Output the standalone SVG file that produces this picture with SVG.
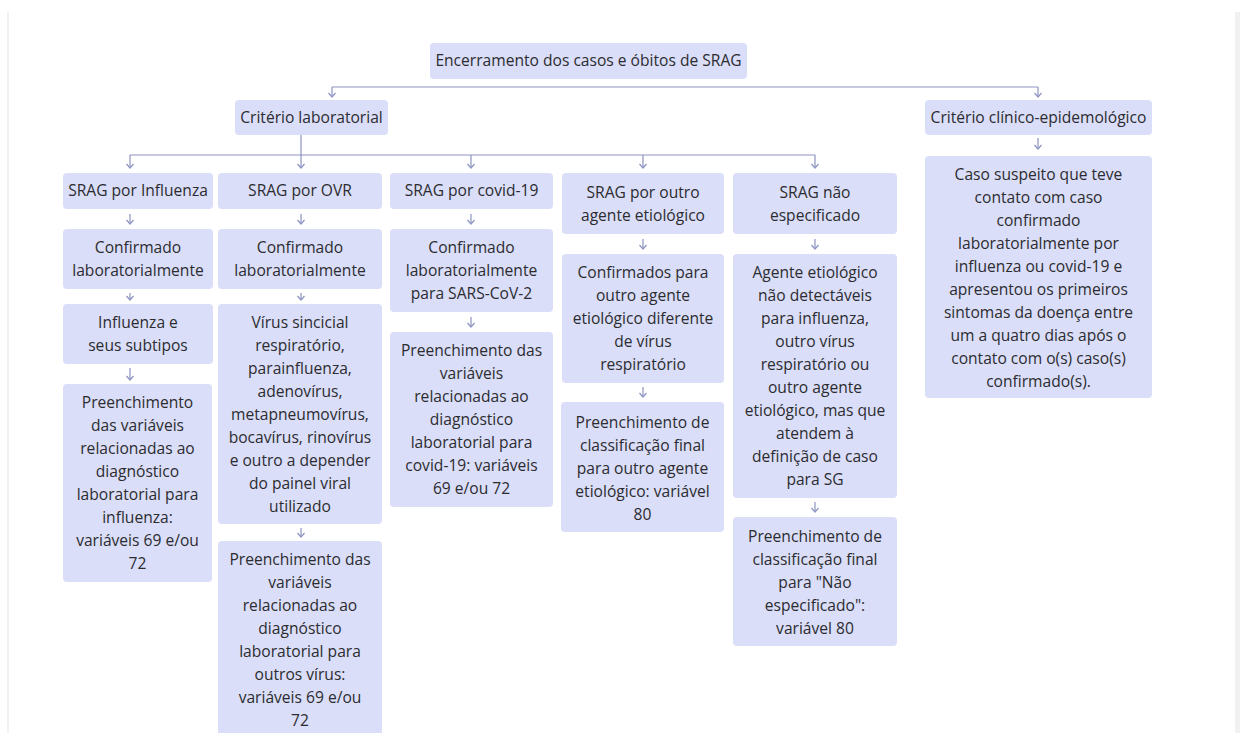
<svg xmlns="http://www.w3.org/2000/svg" width="1243" height="733" viewBox="0 0 1243 733">
<defs>
<style>
.bx{fill:#dadef8;}
.t{font-family:"Open Sans","Noto Sans","DejaVu Sans",sans-serif;font-size:15.6px;fill:#2c2c30;text-anchor:middle;}
.ln{stroke:#8d93c2;stroke-width:1.2;fill:none;}
.ar{stroke:#8d93c2;stroke-width:1.2;fill:none;marker-end:url(#ah);}
.edge{fill:#f1f1f1;}
</style>
<marker id="ah" markerUnits="userSpaceOnUse" markerWidth="10" markerHeight="10" viewBox="-5 -5 10 10" refX="0" refY="0" orient="auto" overflow="visible">
<path d="M-4,-3.5 L0,0 L-4,3.5" fill="none" stroke="#8d93c2" stroke-width="1.2"/>
</marker>
</defs>
<rect x="0" y="0" width="1243" height="733" fill="#ffffff"/>
<rect class="edge" x="7" y="12" width="2" height="721"/>
<rect class="edge" x="1235" y="12" width="5" height="721"/>

<g id="connectors">
<path class="ln" d="M332,87 H1038"/>
<path class="ar" d="M332,87 V97"/>
<path class="ar" d="M1038,87 V97"/>
<path class="ln" d="M130,155 H815"/>
<path class="ar" d="M301,135 V168"/>
<path class="ar" d="M130,155 V168"/>
<path class="ar" d="M471,155 V168"/>
<path class="ar" d="M643,155 V168"/>
<path class="ar" d="M815,155 V168"/>
<path class="ar" d="M1038,138 V149"/>
<path class="ar" d="M130,214 V224"/>
<path class="ar" d="M130,293 V300"/>
<path class="ar" d="M130,368 V380"/>
<path class="ar" d="M301,214 V224"/>
<path class="ar" d="M301,293 V300"/>
<path class="ar" d="M301,528 V537"/>
<path class="ar" d="M471,214 V224"/>
<path class="ar" d="M471,317 V327"/>
<path class="ar" d="M643,239 V249"/>
<path class="ar" d="M643,387 V397"/>
<path class="ar" d="M815,239 V249"/>
<path class="ar" d="M815,502 V512"/>
</g>

<g id="root">
<rect class="bx" x="430" y="43" width="317" height="36" rx="4"/>
<text class="t" x="588.5" y="66">Encerramento dos casos e óbitos de SRAG</text>
</g>

<g id="crit-lab">
<rect class="bx" x="235" y="100" width="153" height="35" rx="4"/>
<text class="t" x="311.5" y="122.5">Critério laboratorial</text>
</g>

<g id="crit-clin">
<rect class="bx" x="925" y="100" width="227" height="35" rx="4"/>
<text class="t" x="1038.5" y="122.5">Critério clínico-epidemológico</text>
</g>

<g id="clin-desc">
<rect class="bx" x="925" y="156" width="227" height="242" rx="4"/>
<text class="t" x="1038.5" y="180">Caso suspeito que teve</text>
<text class="t" x="1038.5" y="203">contato com caso</text>
<text class="t" x="1038.5" y="226">confirmado</text>
<text class="t" x="1038.5" y="249">laboratorialmente por</text>
<text class="t" x="1038.5" y="272">influenza ou covid-19 e</text>
<text class="t" x="1038.5" y="295">apresentou os primeiros</text>
<text class="t" x="1038.5" y="318">sintomas da doença entre</text>
<text class="t" x="1038.5" y="341">um a quatro dias após o</text>
<text class="t" x="1038.5" y="364">contato com o(s) caso(s)</text>
<text class="t" x="1038.5" y="387">confirmado(s).</text>
</g>

<g id="c1-head">
<rect class="bx" x="63" y="173" width="150" height="36" rx="4"/>
<text class="t" x="138" y="196">SRAG por Influenza</text>
</g>
<g id="c1-conf">
<rect class="bx" x="63" y="229" width="150" height="60" rx="4"/>
<text class="t" x="138" y="253">Confirmado</text>
<text class="t" x="138" y="276">laboratorialmente</text>
</g>
<g id="c1-sub">
<rect class="bx" x="63" y="304" width="150" height="60" rx="4"/>
<text class="t" x="138" y="328">Influenza e</text>
<text class="t" x="138" y="351">seus subtipos</text>
</g>
<g id="c1-pre">
<rect class="bx" x="63" y="384" width="149" height="198" rx="4"/>
<text class="t" x="137.5" y="408">Preenchimento</text>
<text class="t" x="137.5" y="431">das variáveis</text>
<text class="t" x="137.5" y="454">relacionadas ao</text>
<text class="t" x="137.5" y="477">diagnóstico</text>
<text class="t" x="137.5" y="500">laboratorial para</text>
<text class="t" x="137.5" y="523">influenza:</text>
<text class="t" x="137.5" y="546">variáveis 69 e/ou</text>
<text class="t" x="137.5" y="569">72</text>
</g>

<g id="c2-head">
<rect class="bx" x="218" y="173" width="164" height="36" rx="4"/>
<text class="t" x="300" y="196">SRAG por OVR</text>
</g>
<g id="c2-conf">
<rect class="bx" x="218" y="229" width="164" height="60" rx="4"/>
<text class="t" x="300" y="253">Confirmado</text>
<text class="t" x="300" y="276">laboratorialmente</text>
</g>
<g id="c2-vir">
<rect class="bx" x="218" y="304" width="164" height="220" rx="4"/>
<text class="t" x="300" y="328">Vírus sincicial</text>
<text class="t" x="300" y="351">respiratório,</text>
<text class="t" x="300" y="374">parainfluenza,</text>
<text class="t" x="300" y="397">adenovírus,</text>
<text class="t" x="300" y="420">metapneumovírus,</text>
<text class="t" x="300" y="443">bocavírus, rinovírus</text>
<text class="t" x="300" y="466">e outro a depender</text>
<text class="t" x="300" y="489">do painel viral</text>
<text class="t" x="300" y="512">utilizado</text>
</g>
<g id="c2-pre">
<rect class="bx" x="218" y="541" width="164" height="200" rx="4"/>
<text class="t" x="300" y="565">Preenchimento das</text>
<text class="t" x="300" y="588">variáveis</text>
<text class="t" x="300" y="611">relacionadas ao</text>
<text class="t" x="300" y="634">diagnóstico</text>
<text class="t" x="300" y="657">laboratorial para</text>
<text class="t" x="300" y="680">outros vírus:</text>
<text class="t" x="300" y="703">variáveis 69 e/ou</text>
<text class="t" x="300" y="726">72</text>
</g>

<g id="c3-head">
<rect class="bx" x="390" y="173" width="163" height="36" rx="4"/>
<text class="t" x="471.5" y="196">SRAG por covid-19</text>
</g>
<g id="c3-conf">
<rect class="bx" x="390" y="229" width="163" height="83" rx="4"/>
<text class="t" x="471.5" y="253">Confirmado</text>
<text class="t" x="471.5" y="276">laboratorialmente</text>
<text class="t" x="471.5" y="299">para SARS-CoV-2</text>
</g>
<g id="c3-pre">
<rect class="bx" x="390" y="332" width="163" height="175" rx="4"/>
<text class="t" x="471.5" y="356">Preenchimento das</text>
<text class="t" x="471.5" y="379">variáveis</text>
<text class="t" x="471.5" y="402">relacionadas ao</text>
<text class="t" x="471.5" y="425">diagnóstico</text>
<text class="t" x="471.5" y="448">laboratorial para</text>
<text class="t" x="471.5" y="471">covid-19: variáveis</text>
<text class="t" x="471.5" y="494">69 e/ou 72</text>
</g>

<g id="c4-head">
<rect class="bx" x="562" y="173" width="162" height="61" rx="4"/>
<text class="t" x="643" y="198">SRAG por outro</text>
<text class="t" x="643" y="221">agente etiológico</text>
</g>
<g id="c4-conf">
<rect class="bx" x="562" y="254" width="162" height="129" rx="4"/>
<text class="t" x="643" y="278">Confirmados para</text>
<text class="t" x="643" y="301">outro agente</text>
<text class="t" x="643" y="324">etiológico diferente</text>
<text class="t" x="643" y="347">de vírus</text>
<text class="t" x="643" y="370">respiratório</text>
</g>
<g id="c4-pre">
<rect class="bx" x="561" y="402" width="163" height="130" rx="4"/>
<text class="t" x="642.5" y="428">Preenchimento de</text>
<text class="t" x="642.5" y="451">classificação final</text>
<text class="t" x="642.5" y="474">para outro agente</text>
<text class="t" x="642.5" y="497">etiológico: variável</text>
<text class="t" x="642.5" y="520">80</text>
</g>

<g id="c5-head">
<rect class="bx" x="733" y="173" width="164" height="61" rx="4"/>
<text class="t" x="815" y="198">SRAG não</text>
<text class="t" x="815" y="221">especificado</text>
</g>
<g id="c5-agent">
<rect class="bx" x="733" y="254" width="164" height="244" rx="4"/>
<text class="t" x="815" y="278">Agente etiológico</text>
<text class="t" x="815" y="301">não detectáveis</text>
<text class="t" x="815" y="324">para influenza,</text>
<text class="t" x="815" y="347">outro vírus</text>
<text class="t" x="815" y="370">respiratório ou</text>
<text class="t" x="815" y="393">outro agente</text>
<text class="t" x="815" y="416">etiológico, mas que</text>
<text class="t" x="815" y="439">atendem à</text>
<text class="t" x="815" y="462">definição de caso</text>
<text class="t" x="815" y="485">para SG</text>
</g>
<g id="c5-pre">
<rect class="bx" x="733" y="517" width="164" height="129" rx="4"/>
<text class="t" x="815" y="542">Preenchimento de</text>
<text class="t" x="815" y="565">classificação final</text>
<text class="t" x="815" y="588">para "Não</text>
<text class="t" x="815" y="611">especificado":</text>
<text class="t" x="815" y="634">variável 80</text>
</g>
</svg>
